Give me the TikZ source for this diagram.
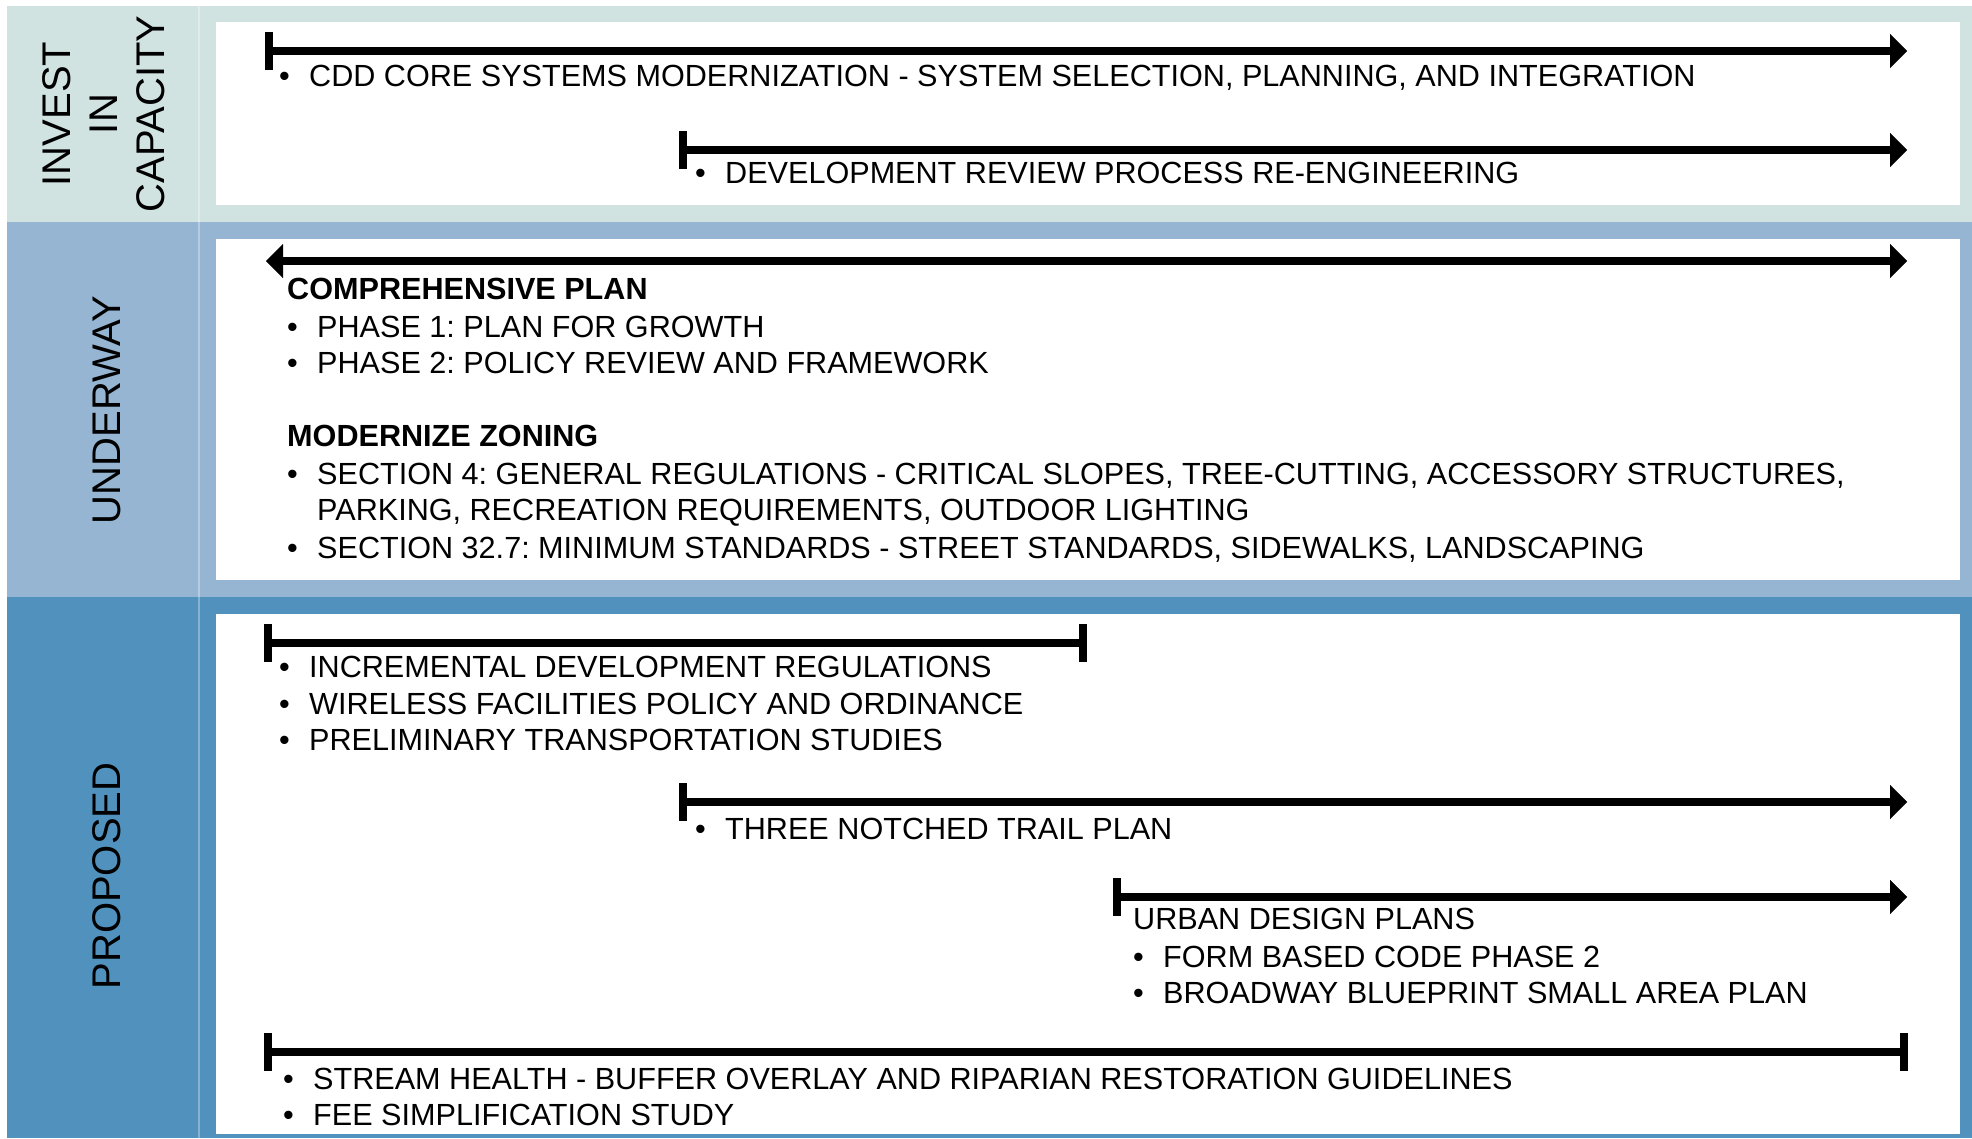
\documentclass[tikz,border=0pt]{standalone}
\usepackage{fontspec}
\setmainfont{Liberation Sans}
\usetikzlibrary{arrows.meta}

\definecolor{capband}{HTML}{D0E3E1}
\definecolor{wayband}{HTML}{95B5D2}
\definecolor{proband}{HTML}{5092BD}

\newcommand{\itm}[1]{\makebox[30pt][l]{\textbullet}#1}

\tikzset{
  txt/.style={anchor=base west, inner sep=0pt, font=\fontsize{30.6}{36.6}\selectfont\frenchspacing},
  hdr/.style={anchor=base west, inner sep=0pt, font=\fontsize{30.6}{36.6}\selectfont\bfseries},
  lbl/.style={rotate=90, align=center, inner sep=0pt, font=\fontsize{40}{47}\selectfont},
  span/.style={line width=8pt},
  open/.style={span, {Bar[width=38pt]}-{Triangle[length=17pt,width=34pt,line width=0.01pt]}},
  both/.style={span, {Triangle[length=17pt,width=34pt,line width=0.01pt]}-{Triangle[length=17pt,width=34pt,line width=0.01pt]}},
  shut/.style={span, {Bar[width=38pt]}-{Bar[width=38pt]}}
}

\begin{document}
\begin{tikzpicture}[x=1pt,y=-1pt]
\useasboundingbox (0,0) rectangle (1972,1138);

% bands
\fill[capband] (7,6) rectangle (1972,222);
\fill[wayband] (7,222) rectangle (1972,597);
\fill[proband] (7,597) rectangle (1972,1138);
\draw[white, opacity=0.3, line width=1.5pt] (199,6) -- (199,1138);
\fill[white] (216,22) rectangle (1960,205);
\fill[white] (216,239) rectangle (1960,580);
\fill[white] (216,614) rectangle (1960,1134);

% side labels
\node[lbl] (invest) at (104,114) {INVEST\\IN\\CAPACITY};
\node[lbl] (underway) at (107,410) {UNDERWAY};
\node[lbl] (proposed) at (107,876) {PROPOSED};

% invest in capacity
\coordinate (A1) at (265,51);
\coordinate (B1) at (1907,51);
\coordinate (A2) at (679,150);
\coordinate (B2) at (1907,150);

\draw[open] (A1) -- (B1);
\draw[open] (A2) -- (B2);
\node[txt] (cdd) at (279,86.5) {\itm{CDD CORE SYSTEMS MODERNIZATION - SYSTEM SELECTION, PLANNING, AND INTEGRATION}};
\node[txt] (review) at (695,183) {\itm{DEVELOPMENT REVIEW PROCESS RE-ENGINEERING}};

% underway
\coordinate (A3) at (266,261);
\coordinate (B3) at (1907,261);

\draw[both] (A3) -- (B3);
\node[hdr] (comp) at (287,299) {COMPREHENSIVE PLAN};
\node[txt] (ph1) at (287,337) {\itm{PHASE 1: PLAN FOR GROWTH}};
\node[txt] (ph2) at (287,373) {\itm{PHASE 2: POLICY REVIEW AND FRAMEWORK}};
\node[hdr] (zoning) at (287,446) {MODERNIZE ZONING};
\node[txt] (sec4) at (287,484) {\itm{SECTION 4: GENERAL REGULATIONS - CRITICAL SLOPES, TREE-CUTTING, ACCESSORY STRUCTURES,}};
\node[txt] (sec4b) at (317,520) {PARKING, RECREATION REQUIREMENTS, OUTDOOR LIGHTING};
\node[txt] (sec32) at (287,558) {\itm{SECTION 32.7: MINIMUM STANDARDS - STREET STANDARDS, SIDEWALKS, LANDSCAPING}};

% proposed
\coordinate (A4) at (264,643);
\coordinate (B4) at (1087,643);
\coordinate (A5) at (679,802);
\coordinate (B5) at (1907,802);
\coordinate (A6) at (1113,897);
\coordinate (B6) at (1907,897);
\coordinate (A7) at (264,1052);
\coordinate (B7) at (1908,1052);

\draw[shut] (A4) -- (B4);
\node[txt] (incr) at (279,677) {\itm{INCREMENTAL DEVELOPMENT REGULATIONS}};
\node[txt] (wire) at (279,714) {\itm{WIRELESS FACILITIES POLICY AND ORDINANCE}};
\node[txt] (prelim) at (279,750) {\itm{PRELIMINARY TRANSPORTATION STUDIES}};

\draw[open] (A5) -- (B5);
\node[txt] (trail) at (695,839) {\itm{THREE NOTCHED TRAIL PLAN}};

\draw[open] (A6) -- (B6);
\node[txt] (urban) at (1133,929) {URBAN DESIGN PLANS};
\node[txt] (form) at (1133,967) {\itm{FORM BASED CODE PHASE 2}};
\node[txt] (bway) at (1133,1003) {\itm{BROADWAY BLUEPRINT SMALL AREA PLAN}};

\draw[shut] (A7) -- (B7);
\node[txt] (stream) at (283,1089) {\itm{STREAM HEALTH - BUFFER OVERLAY AND RIPARIAN RESTORATION GUIDELINES}};
\node[txt] (fee) at (283,1125) {\itm{FEE SIMPLIFICATION STUDY}};
\end{tikzpicture}
\end{document}
